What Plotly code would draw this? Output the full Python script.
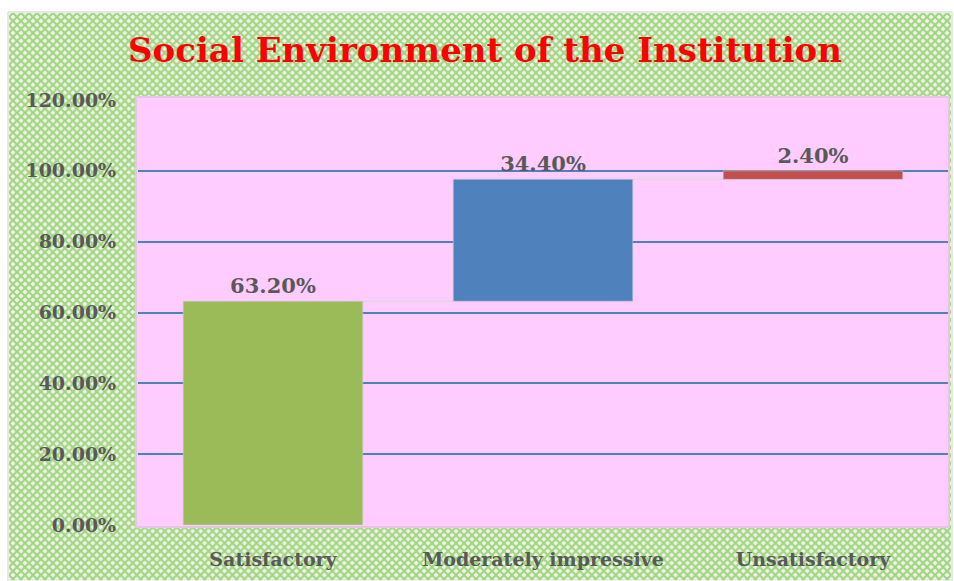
import base64
import numpy as np
import plotly.graph_objects as go

categories = ["Satisfactory", "Moderately impressive", "Unsatisfactory"]
values = [63.2, 34.4, 2.4]
labels = ["63.20%", "34.40%", "2.40%"]
bar_colors = ["#9bbb59", "#4f81bd", "#c0504d"]
y_ticks = [0, 20, 40, 60, 80, 100, 120]
y_tick_text = ["0.00%", "20.00%", "40.00%", "60.00%", "80.00%", "100.00%", "120.00%"]

bases = list(np.concatenate([[0], np.cumsum(values)[:-1]]))

# checkered green background pattern (style only)
svg = (
    '<svg xmlns="http://www.w3.org/2000/svg" width="944" height="569">'
    '<defs><pattern id="p" width="8" height="8" patternUnits="userSpaceOnUse">'
    '<rect width="8" height="8" fill="#a3d483"/>'
    '<polygon points="4,1.5 6.5,4 4,6.5 1.5,4" fill="#ffffff" opacity="0.8"/>'
    '<polygon points="0,-2.5 2.5,0 0,2.5 -2.5,0" fill="#ffffff" opacity="0.8"/>'
    '<polygon points="8,-2.5 10.5,0 8,2.5 5.5,0" fill="#ffffff" opacity="0.8"/>'
    '<polygon points="0,5.5 2.5,8 0,10.5 -2.5,8" fill="#ffffff" opacity="0.8"/>'
    '<polygon points="8,5.5 10.5,8 8,10.5 5.5,8" fill="#ffffff" opacity="0.8"/>'
    '</pattern></defs>'
    '<rect width="944" height="569" fill="url(#p)"/></svg>'
)
src = "data:image/svg+xml;base64," + base64.b64encode(svg.encode()).decode()

W, H = 954, 581
L, R, T, B = 138, 6, 100, 56
pw, ph = W - L - R, H - T - B

def px_x(x):
    return (x - L) / pw

def px_y(y):
    return (H - B - y) / ph

fig = go.Figure()

fig.add_trace(go.Waterfall(
    x=categories, y=values, measure=["relative"] * 3,
    increasing=dict(marker=dict(color="rgba(0,0,0,0)", line=dict(width=0))),
    connector=dict(line=dict(color="#d9d9d9", width=1.5)),
    width=0.665, hoverinfo="skip", textinfo="none", showlegend=False,
))

fig.add_trace(go.Bar(
    x=categories, y=values, base=bases,
    marker=dict(color=bar_colors, line=dict(color="rgba(200,200,200,0.6)", width=1)),
    width=0.665,
    text=labels, textposition="outside", cliponaxis=False,
    textfont=dict(family="DejaVu Serif", size=21, color="#595959", weight="bold"),
    showlegend=False,
))

fig.update_layout(
    width=W, height=H,
    margin=dict(l=L, r=R, t=T, b=B),
    paper_bgcolor="#ffffff",
    plot_bgcolor="rgba(0,0,0,0)",
    barmode="overlay",
    title=dict(
        text="Social Environment of the Institution",
        x=485 / W, xref="container", xanchor="center",
        y=1 - 50 / H, yref="container", yanchor="middle",
        font=dict(family="DejaVu Serif", size=34, color="#ff0000", weight="bold"),
    ),
    images=[dict(
        source=src, xref="paper", yref="paper",
        x=px_x(9), y=px_y(13), sizex=(951 - 9) / pw, sizey=(580 - 13) / ph,
        xanchor="left", yanchor="top", sizing="stretch", layer="below",
    )],
    shapes=[
        dict(type="rect", xref="paper", yref="paper",
             x0=px_x(8), x1=px_x(952), y0=px_y(12), y1=px_y(581),
             line=dict(color="#d0d0d0", width=1), fillcolor="rgba(0,0,0,0)", layer="below"),
        dict(type="rect", xref="paper", yref="paper",
             x0=px_x(136), x1=px_x(949), y0=px_y(97), y1=px_y(527),
             line=dict(color="#e6c6e6", width=2), fillcolor="#ffccff", layer="below"),
    ],
    bargap=0.335,
)

fig.update_xaxes(
    showgrid=False, zeroline=False, showline=False,
    ticks="outside", ticklen=17, tickcolor="rgba(0,0,0,0)",
    tickfont=dict(family="DejaVu Serif", size=19, color="#595959", weight="bold"),
)
fig.update_yaxes(
    range=[0, 120], tickvals=y_ticks, ticktext=y_tick_text,
    showgrid=True, gridcolor="#4f81bd", gridwidth=1.5,
    zeroline=False, showline=False,
    ticks="outside", ticklen=17, tickcolor="rgba(0,0,0,0)",
    tickfont=dict(family="DejaVu Serif", size=19, color="#595959", weight="bold"),
)

fig.write_html("out.html", config={"displayModeBar": False},
               post_script="document.body.style.margin='0';")
